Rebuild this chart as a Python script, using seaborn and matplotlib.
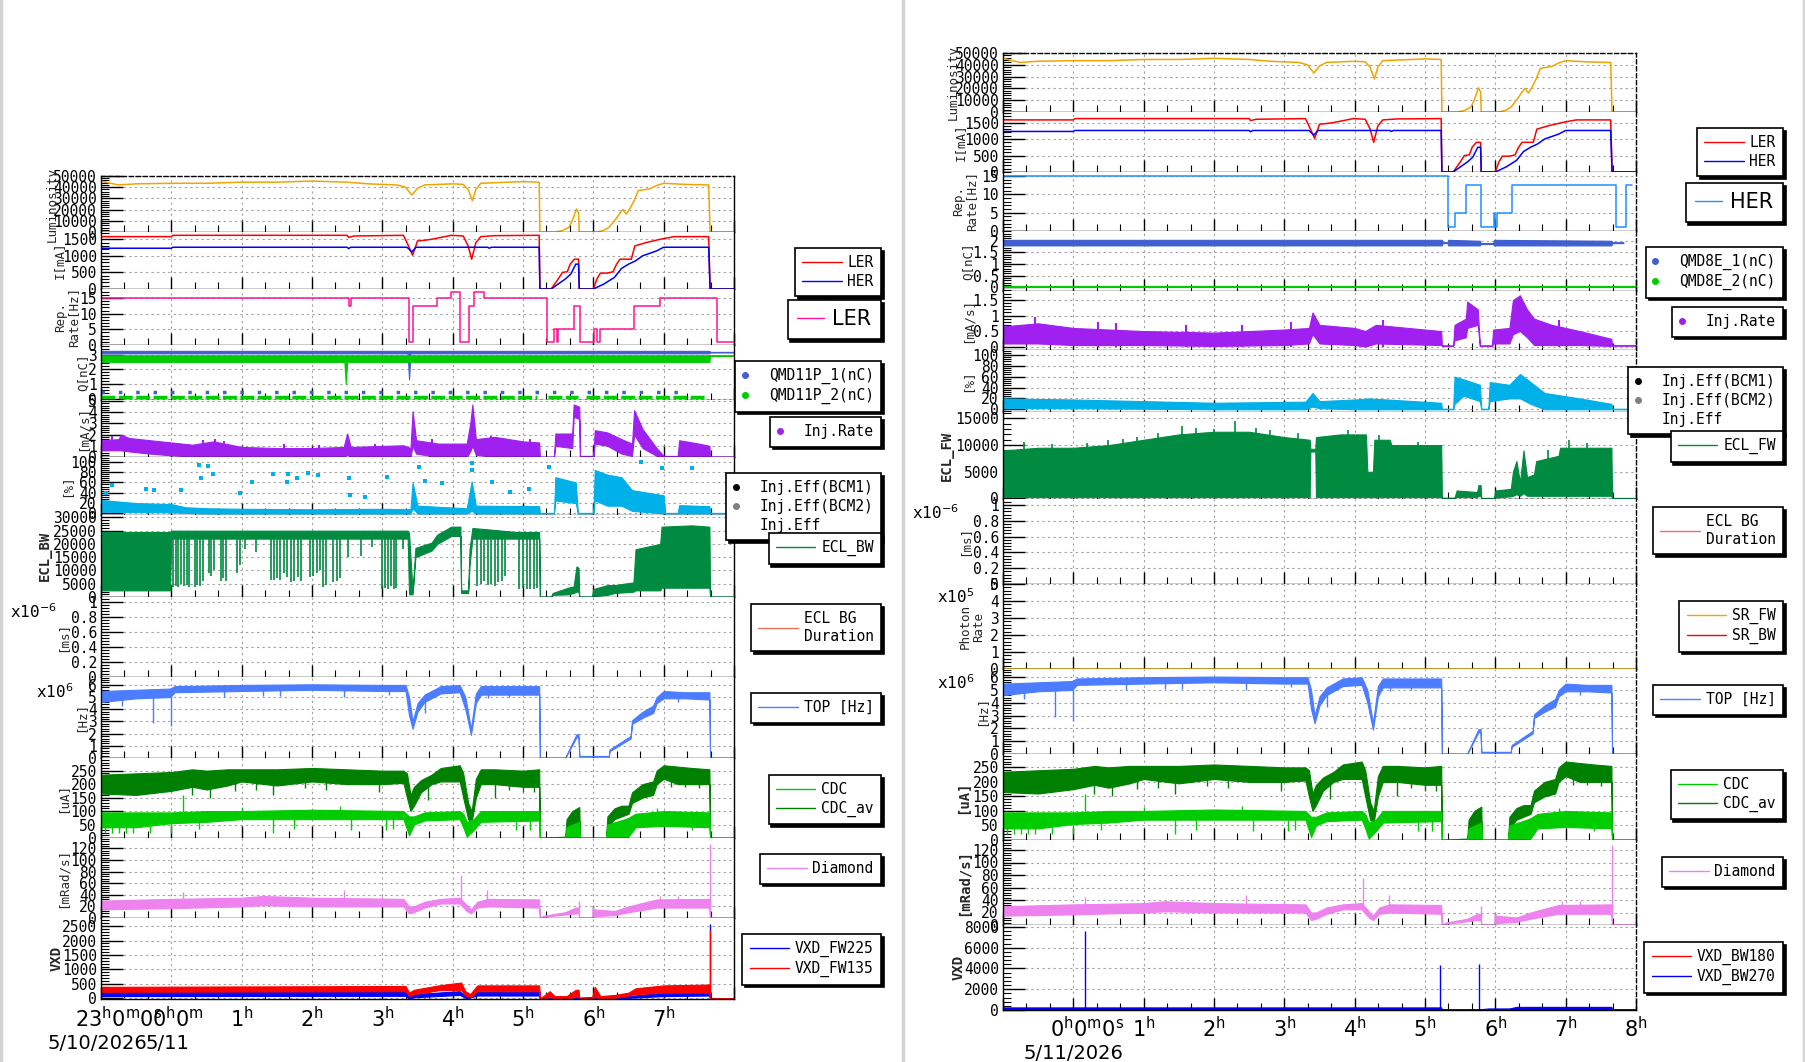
import pandas as pd
import seaborn as sns
import matplotlib
matplotlib.use('Agg')
import matplotlib.pyplot as plt
from matplotlib.lines import Line2D
from matplotlib.ticker import MultipleLocator, AutoMinorLocator, FuncFormatter, NullFormatter

sns.set_theme(style='white')
plt.rcParams['font.family'] = ['DejaVu Sans Mono', 'DejaVu Sans']
plt.rcParams['mathtext.fontset'] = 'dejavusans'
plt.rcParams['axes.edgecolor'] = 'black'
plt.rcParams['xtick.color'] = 'black'
plt.rcParams['ytick.color'] = 'black'
plt.rcParams['text.color'] = 'black'

W, H = 1806, 1062
T0, T1 = -1.0, 8.0  # hours from 5/11 00:00

# ---------------- data (time in hours) ----------------
# luminosity (t, value)
lum = [(-1.0, 45500), (-0.9, 44000), (-0.75, 42000), (-0.5, 43000), (0.0, 43500), (0.5, 43500),
       (1.0, 44500), (1.5, 44500), (2.0, 45500), (2.5, 44500), (2.8, 43000), (3.2, 42000),
       (3.33, 40000), (3.42, 33000), (3.5, 39000), (3.6, 42000), (4.0, 43000), (4.15, 42500),
       (4.22, 38000), (4.28, 28000), (4.33, 38000), (4.4, 43500), (5.0, 45000), (5.23, 44500),
       (5.24, 0), (5.45, 0), (5.55, 1000), (5.65, 4000), (5.7, 10000), (5.76, 20500), (5.79, 17000),
       (5.8, 0), (6.05, 0), (6.15, 1500), (6.22, 4000), (6.3, 10000), (6.38, 17000), (6.42, 20000),
       (6.47, 16000), (6.53, 22000), (6.58, 28000), (6.64, 37000), (6.8, 38500), (6.9, 41500),
       (7.0, 43500), (7.3, 42500), (7.64, 42000), (7.66, 0), (8.0, 0)]

# beam currents [mA]
ler = [(-1.0, 1580), (0.0, 1580), (0.02, 1620), (2.5, 1620), (2.52, 1560), (2.6, 1600), (3.3, 1620),
       (3.35, 1400), (3.43, 1020), (3.5, 1450), (3.6, 1470), (3.7, 1500), (3.98, 1620), (4.15, 1600),
       (4.22, 1300), (4.27, 900), (4.33, 1400), (4.4, 1580), (4.6, 1610), (5.23, 1620), (5.24, 0),
       (5.4, 0), (5.5, 300), (5.56, 500), (5.63, 520), (5.67, 750), (5.73, 900), (5.79, 900), (5.8, 0),
       (6.0, 0), (6.05, 300), (6.1, 480), (6.2, 480), (6.28, 520), (6.33, 750), (6.38, 900), (6.54, 900),
       (6.59, 1300), (6.75, 1400), (6.95, 1500), (7.15, 1580), (7.64, 1580), (7.66, 0), (8.0, 0)]
her = [(-1.0, 1230), (0.0, 1230), (0.02, 1260), (2.5, 1260), (2.52, 1220), (2.55, 1260), (3.35, 1260),
       (3.42, 1120), (3.48, 1260), (4.5, 1260), (4.52, 1230), (4.55, 1260), (5.23, 1260), (5.24, 0),
       (5.4, 0), (5.5, 150), (5.6, 300), (5.68, 450), (5.75, 750), (5.79, 750), (5.8, 0), (6.0, 0),
       (6.05, 50), (6.15, 150), (6.3, 350), (6.4, 620), (6.5, 750), (6.6, 850), (6.7, 1000),
       (6.9, 1150), (7.0, 1260), (7.64, 1260), (7.66, 0), (8.0, 0)]

# injection repetition rate [Hz] (steps)
rep_ler = [(-1.0, 15), (2.52, 12.5), (2.56, 15), (3.38, 1), (3.43, 12.5), (3.78, 15), (3.98, 17),
           (4.11, 1), (4.23, 12.5), (4.3, 17), (4.45, 15), (5.34, 1), (5.44, 5), (5.48, 1), (5.5, 5),
           (5.72, 12.5), (5.81, 1), (6.01, 5), (6.05, 1), (6.1, 5), (6.58, 12.5), (6.95, 15),
           (7.76, 1), (8.0, 1)]
rep_her = [(-1.0, 15), (5.32, 1), (5.42, 5), (5.59, 12.5), (5.79, 1), (5.98, 5), (6.0, 1), (6.02, 5),
           (6.23, 12.5), (7.72, 1), (7.86, 12.5), (7.95, 12.5)]

# bunch charge [nC] bands (t, low, high) and sparse rows (start, end, level)
q11p_1 = [(-1.0, 3.08, 3.25), (3.36, 3.08, 3.25), (3.38, 1.3, 3.25), (3.40, 3.08, 3.25),
          (7.65, 3.08, 3.25), (7.66, 3.14, 3.18), (8.0, 3.14, 3.18)]
q11p_2 = [(-1.0, 2.5, 2.95), (2.46, 2.5, 2.95), (2.48, 1.0, 2.95), (2.5, 2.5, 2.95),
          (7.65, 2.5, 2.95), (7.66, 2.9, 2.95), (8.0, 2.9, 2.95)]
q11p_1_row = [(-1.0, 7.3, 0.45)]
q11p_2_row = [(-1.0, 5.2, 0.08), (5.35, 5.78, 0.08), (5.9, 7.62, 0.08)]
q8e_1 = [(-1.0, 1.8, 2.04), (5.24, 1.8, 2.04), (5.25, 1.9, 1.94), (5.32, 1.9, 1.94), (5.33, 1.8, 2.04),
         (5.78, 1.8, 2.0), (5.79, 1.86, 1.9), (5.97, 1.86, 1.9), (5.98, 1.8, 2.04), (7.65, 1.8, 2.0),
         (7.66, 1.9, 1.94), (7.82, 1.9, 1.94)]
q8e_2 = [(-1.0, 0.0, 0.07), (8.0, 0.0, 0.07)]

# injection rate [mA/s] bands
inj_l = [(-1.0, 0.6, 1.5), (-0.75, 0.6, 1.6), (-0.72, 0.6, 2.0), (-0.6, 0.5, 1.7), (-0.3, 0.3, 1.5),
         (0.0, 0.15, 1.3), (0.3, 0.05, 1.1), (0.6, 0.0, 1.4), (1.0, 0.0, 0.9), (1.5, 0.0, 0.8),
         (2.0, 0.0, 0.8), (2.45, 0.0, 0.9), (2.5, 0.2, 2.1), (2.55, 0.0, 0.9), (3.3, 0.0, 1.05),
         (3.4, 0.0, 0.8), (3.43, 1.0, 4.1), (3.48, 0.3, 1.5), (3.8, 0.0, 1.2), (4.2, 0.0, 1.2),
         (4.25, 0.5, 3.0), (4.28, 1.0, 4.7), (4.33, 0.2, 1.6), (4.6, 0.0, 1.8), (5.0, 0.0, 1.4),
         (5.23, 0.0, 1.3), (5.24, 0.0, 0.03), (5.44, 0.0, 0.03), (5.46, 1.0, 2.1), (5.7, 0.8, 2.1),
         (5.72, 3.6, 4.7), (5.8, 3.4, 4.5), (5.81, 0.0, 0.1), (6.0, 0.0, 0.1), (6.02, 1.2, 2.4),
         (6.2, 1.0, 2.2), (6.4, 0.3, 1.6), (6.55, 0.1, 1.2), (6.58, 2.0, 4.2), (6.7, 0.8, 2.5),
         (6.9, 0.1, 0.8), (7.0, 0.0, 0.1), (7.2, 0.0, 0.1), (7.22, 0.0, 1.5), (7.5, 0.0, 1.2),
         (7.65, 0.0, 1.0), (7.66, 0.0, 0.05), (8.0, 0.0, 0.05)]
inj_l_spk = [(-0.85, 0.6, 1.9), (0.45, 0.0, 1.5), (0.62, 0.0, 1.6), (0.75, 0.0, 1.4), (1.6, 0.0, 1.2),
             (2.1, 0.0, 1.1), (2.9, 0.0, 1.2), (3.7, 0.0, 1.6), (4.55, 0.0, 1.9), (5.1, 0.0, 1.6)]
inj_r = [(-1.0, 0.1, 0.65), (-0.5, 0.1, 0.75), (0.0, 0.05, 0.6), (0.5, 0.05, 0.55), (1.0, 0.05, 0.5),
         (2.0, 0.02, 0.45), (3.0, 0.05, 0.55), (3.35, 0.1, 0.6), (3.4, 0.4, 1.1), (3.5, 0.1, 0.7),
         (4.0, 0.05, 0.6), (4.15, 0.0, 0.5), (4.3, 0.1, 0.7), (5.23, 0.05, 0.5), (5.24, 0.02, 0.04),
         (5.4, 0.02, 0.04), (5.42, 0.2, 0.7), (5.58, 0.3, 0.9), (5.6, 0.6, 1.45), (5.75, 0.7, 1.2),
         (5.78, 0.02, 0.04), (5.95, 0.02, 0.04), (5.97, 0.1, 0.55), (6.2, 0.1, 0.6), (6.25, 0.4, 1.5),
         (6.35, 0.5, 1.65), (6.45, 0.3, 1.2), (6.55, 0.05, 0.9), (6.8, 0.05, 0.7), (7.2, 0.05, 0.5),
         (7.65, 0.02, 0.25), (7.66, 0.03, 0.05), (8.0, 0.03, 0.05)]
inj_r_spk = [(-0.55, 0.1, 0.95), (0.35, 0.0, 0.8), (0.6, 0.0, 0.75), (1.6, 0.0, 0.7), (2.4, 0.0, 0.7),
             (3.1, 0.0, 0.8), (4.4, 0.0, 0.85), (6.9, 0.0, 0.85)]

# injection efficiency [%] bands and outliers
eff_l = [(-1.0, 3, 26), (-0.5, 3, 20), (0.0, 2, 18), (0.2, 1, 12), (0.5, 0, 10), (1.0, 0, 9), (2.0, 0, 8),
         (3.0, 0, 9), (3.4, 0, 8), (3.43, 10, 60), (3.5, 0, 15), (4.2, 0, 10), (4.27, 5, 62),
         (4.33, 0, 15), (5.23, 0, 14), (5.24, 0, 1), (5.44, 0, 1), (5.46, 25, 70), (5.75, 20, 60),
         (5.78, 0, 1), (6.0, 0, 1), (6.02, 25, 84), (6.2, 15, 75), (6.4, 15, 70), (6.55, 5, 45),
         (7.0, 0, 35), (7.02, 0, 1), (7.2, 0, 1), (7.22, 0, 16), (7.65, 0, 14), (7.66, 0, 1), (8.0, 0, 1)]
eff_l_pts = [(-0.93, 39), (-0.84, 55), (-0.36, 48), (-0.24, 45), (0.14, 45), (0.4, 94), (0.42, 68),
             (0.52, 92), (0.59, 77), (0.97, 40), (1.14, 61), (1.45, 76), (1.64, 61), (1.66, 77),
             (1.78, 68), (1.95, 79), (2.09, 74), (2.52, 68), (2.54, 35), (2.76, 32), (3.07, 71),
             (3.52, 90), (3.61, 63), (3.85, 59), (4.28, 84), (4.28, 97), (4.56, 61), (4.82, 42),
             (5.08, 48), (5.37, 90), (6.68, 100), (6.97, 87), (7.4, 87)]
eff_r = [(-1.0, 2, 20), (0.0, 2, 18), (1.0, 1, 15), (2.0, 0, 12), (3.3, 0, 14), (3.4, 5, 30), (3.5, 2, 15),
         (4.0, 0, 18), (4.2, 0, 20), (5.23, 0, 12), (5.24, 0, 1), (5.4, 0, 1), (5.42, 10, 60),
         (5.55, 25, 55), (5.78, 15, 45), (5.8, 0, 1), (5.9, 0, 1), (5.92, 15, 50), (6.2, 20, 45),
         (6.35, 20, 65), (6.5, 10, 50), (6.7, 0, 30), (7.2, 0, 20), (7.65, 0, 10), (7.66, 0, 1), (8.0, 0, 1)]

# ECL backward / forward
ecl_bw = [(-1.0, 2500, 24500), (-0.02, 2500, 24500), (0.0, 22000, 25000), (3.36, 22000, 25000),
          (3.38, 1000, 24000), (3.43, 1000, 2000), (3.47, 15000, 18500), (3.7, 17500, 20500),
          (3.78, 20000, 23500), (3.98, 23000, 26500), (4.11, 23000, 26500), (4.12, 1500, 2500),
          (4.22, 1500, 2500), (4.24, 12000, 18000), (4.28, 22000, 26000), (4.5, 22000, 25500),
          (4.9, 22000, 24500), (5.23, 22000, 24500), (5.24, 0, 200), (5.4, 0, 200), (5.42, 800, 1500),
          (5.64, 1000, 3500), (5.72, 1500, 4000), (5.76, 2000, 11500), (5.79, 2000, 11000), (5.8, 0, 200),
          (5.98, 0, 200), (6.0, 300, 3000), (6.2, 800, 4500), (6.3, 1500, 4500), (6.57, 2000, 5500),
          (6.6, 2500, 18000), (6.95, 2500, 20000), (6.97, 3500, 26500), (7.4, 3500, 27000),
          (7.65, 3500, 26500), (7.66, 0, 200), (8.0, 0, 200)]
ecl_bw_spk = [(0.02, 3800), (0.06, 4200), (0.1, 3800), (0.14, 5000), (0.18, 4000), (0.22, 4500),
              (0.25, 3800), (0.33, 3800), (0.37, 4500), (0.41, 4000), (0.45, 6000), (0.53, 9000),
              (0.57, 8000), (0.6, 10000), (0.7, 6000), (0.74, 7000), (0.78, 6000), (0.93, 9000),
              (0.97, 12000), (1.05, 18000), (1.2, 17000), (1.42, 6300), (1.46, 6500), (1.5, 7000),
              (1.55, 6300), (1.6, 9000), (1.64, 7500), (1.7, 5500), (1.75, 6000), (1.8, 7500),
              (1.85, 6000), (1.97, 7500), (2.02, 8000), (2.07, 9000), (2.11, 10000), (2.15, 3800),
              (2.2, 4500), (2.3, 5500), (2.35, 6000), (2.4, 7000), (2.51, 15000), (2.7, 15500),
              (2.85, 19000), (3.0, 3000), (3.04, 3500), (3.08, 3000), (3.12, 4000), (3.16, 3000),
              (3.2, 3500), (3.3, 18000), (4.35, 4000), (4.4, 5000), (4.45, 6000), (4.5, 4500),
              (4.55, 5000), (4.6, 4000), (4.65, 5500), (4.7, 6000), (4.75, 8000), (4.95, 3000),
              (5.0, 3500), (5.05, 3000), (5.1, 3200), (5.15, 3000), (5.2, 3500)]
ecl_fw = [(-1.0, 300, 9000), (-0.5, 300, 9500), (0.0, 300, 9500), (0.5, 300, 10000), (1.0, 300, 11000),
          (1.5, 300, 12000), (2.0, 300, 12500), (2.5, 300, 12500), (3.0, 300, 11500), (3.36, 300, 11000),
          (3.37, 8800, 9300), (3.44, 8800, 9300), (3.45, 300, 11500), (3.8, 300, 12000),
          (4.16, 300, 12000), (4.18, 300, 5000), (4.26, 300, 5000), (4.28, 300, 11000),
          (4.5, 300, 11000), (4.52, 300, 10000), (5.23, 300, 10000), (5.24, 0, 150), (5.42, 0, 150),
          (5.45, 300, 1500), (5.74, 300, 1200), (5.76, 500, 2500), (5.79, 500, 2500), (5.8, 0, 100),
          (5.98, 0, 100), (6.0, 200, 1500), (6.22, 400, 1800), (6.25, 500, 5000), (6.3, 800, 7000),
          (6.35, 500, 3000), (6.4, 1000, 9000), (6.45, 500, 4000), (6.55, 500, 4500),
          (6.58, 500, 7000), (6.9, 500, 8000), (6.92, 500, 9500), (7.65, 500, 9500), (7.66, 0, 100),
          (8.0, 0, 100)]
ecl_fw_spk = [(-0.7, 10500), (-0.3, 10200), (0.2, 10300), (0.5, 11000), (0.7, 11200), (0.9, 11500),
              (1.2, 12300), (1.55, 13500), (1.75, 13200), (2.0, 13000), (2.3, 14500), (2.6, 13200),
              (2.8, 12800), (3.2, 12200), (3.9, 12800), (4.35, 11800), (4.9, 10600), (6.75, 9000),
              (7.05, 11000), (7.3, 10300)]

# synchrotron radiation photon rate (x1e5)
sr_fw = [(-1.0, 0.0), (8.0, 0.0)]

# TOP rate (x1e6 Hz)
top = [(-1.0, 4.6, 5.5), (-0.5, 4.9, 5.6), (-0.02, 5.0, 5.7), (0.05, 5.4, 5.9), (1.0, 5.5, 6.0),
       (2.0, 5.6, 6.05), (3.0, 5.5, 6.0), (3.33, 5.5, 6.0), (3.38, 3.5, 5.0), (3.43, 2.4, 3.0),
       (3.5, 3.8, 4.5), (3.6, 4.6, 5.2), (3.83, 5.3, 5.9), (4.1, 5.4, 6.0), (4.18, 4.0, 5.0),
       (4.26, 1.9, 2.4), (4.33, 4.5, 5.3), (4.4, 5.2, 5.9), (5.23, 5.2, 5.9), (5.24, 0.0, 0.03),
       (5.6, 0.0, 0.03), (5.76, 1.7, 1.95), (5.79, 1.7, 1.95), (5.8, 0.12, 0.17), (6.22, 0.12, 0.17),
       (6.23, 0.55, 0.7), (6.5, 1.5, 1.7), (6.53, 1.6, 1.8), (6.55, 2.8, 3.1), (6.7, 3.3, 3.8),
       (6.85, 3.7, 4.3), (6.9, 4.5, 5.0), (7.0, 4.9, 5.5), (7.3, 4.9, 5.4), (7.65, 4.8, 5.4),
       (7.66, 0.0, 0.03), (8.0, 0.0, 0.03)]
top_spk = [(-0.26, 2.9, 5.2), (0.0, 2.6, 5.4), (3.6, 3.7, 4.8), (-0.7, 4.3, 5.2), (0.75, 5.0, 5.8),
           (1.3, 5.1, 5.8), (1.55, 5.1, 5.9), (2.45, 5.0, 5.8), (3.1, 5.2, 5.9), (4.5, 4.9, 5.7),
           (4.8, 5.0, 5.7), (7.2, 4.6, 5.2)]

# CDC currents [uA]
cdc_av = [(-1.0, 165, 235), (-0.5, 160, 240), (0.0, 175, 245), (0.3, 190, 255), (0.5, 180, 250),
          (0.8, 195, 255), (1.0, 210, 255), (1.5, 195, 255), (2.0, 210, 260), (2.5, 200, 255),
          (3.0, 200, 250), (3.3, 205, 250), (3.35, 150, 240), (3.4, 100, 160), (3.45, 120, 190),
          (3.55, 170, 215), (3.7, 200, 235), (3.83, 210, 260), (4.1, 210, 270), (4.15, 150, 240),
          (4.22, 70, 130), (4.27, 60, 100), (4.33, 150, 220), (4.4, 200, 255), (4.6, 200, 255),
          (5.0, 190, 250), (5.23, 190, 255), (5.24, 0, 1), (5.6, 0, 5), (5.62, 30, 70), (5.7, 50, 100),
          (5.8, 60, 115), (5.81, 0, 1), (6.18, 0, 1), (6.2, 40, 80), (6.3, 70, 110), (6.4, 80, 120),
          (6.5, 90, 120), (6.55, 130, 170), (6.7, 150, 200), (6.85, 160, 210), (6.9, 200, 250),
          (7.0, 220, 270), (7.2, 200, 265), (7.4, 200, 260), (7.65, 200, 255), (7.66, 0, 1), (8.0, 0, 1)]
cdc = [(-1.0, 40, 95), (-0.5, 40, 95), (0.0, 55, 95), (0.5, 60, 100), (1.0, 70, 100), (2.0, 70, 105),
       (3.3, 70, 100), (3.38, 10, 80), (3.45, 50, 80), (3.6, 65, 95), (4.1, 70, 100), (4.15, 40, 90),
       (4.2, 5, 60), (4.3, 30, 70), (4.4, 60, 100), (5.23, 65, 100), (5.24, 0, 1), (5.6, 0, 1),
       (5.62, 0, 40), (5.8, 0, 60), (5.81, 0, 1), (6.18, 0, 1), (6.2, 0, 50), (6.45, 0, 70),
       (6.5, 5, 75), (6.6, 40, 90), (7.0, 45, 100), (7.65, 40, 95), (7.66, 0, 1), (8.0, 0, 1)]
cdc_spk = [(-0.95, 20, 60), (-0.85, 20, 60), (-0.75, 20, 60), (-0.65, 20, 60), (-0.55, 20, 60),
           (-0.3, 20, 60), (0.0, 20, 60), (0.17, 80, 160), (0.4, 35, 70), (1.45, 20, 70), (1.75, 35, 70),
           (2.55, 30, 70), (3.05, 30, 70), (3.15, 35, 70), (4.9, 30, 70), (5.1, 30, 70), (7.4, 30, 70),
           (1.0, 80, 115), (2.4, 80, 118), (6.9, 70, 110)]
cdc_av_spk = [(0.55, 150, 200), (1.45, 160, 200), (2.95, 170, 210), (3.65, 140, 210), (4.6, 150, 200),
              (0.3, 160, 200), (0.9, 175, 220), (1.2, 180, 220), (1.9, 185, 220), (2.2, 180, 215),
              (4.8, 180, 220), (5.0, 170, 210), (5.15, 170, 210), (7.1, 190, 230), (7.3, 190, 230),
              (7.5, 185, 225)]

# diamond dose rate [mRad/s]
dia = [(-1.0, 15, 30), (0.0, 17, 33), (1.0, 20, 35), (1.3, 22, 38), (2.0, 20, 35), (3.3, 20, 33),
       (3.38, 8, 20), (3.45, 10, 20), (3.6, 18, 28), (3.83, 25, 33), (4.1, 25, 35), (4.2, 12, 22),
       (4.26, 8, 15), (4.35, 18, 28), (4.5, 20, 33), (5.23, 18, 32), (5.24, 0, 1), (5.3, 2, 4),
       (5.6, 6, 10), (5.75, 8, 18), (5.79, 8, 18), (5.8, 0, 1), (5.98, 0, 1), (6.0, 3, 15),
       (6.3, 5, 12), (6.5, 10, 20), (6.9, 18, 32), (7.65, 18, 33), (7.66, 0, 1), (8.0, 0, 1)]
dia_spk = [(0.17, 20, 45), (2.46, 25, 48), (4.12, 30, 75), (4.49, 25, 48), (5.8, 10, 30),
           (6.0, 10, 20), (7.66, 0, 128), (1.3, 30, 40), (3.0, 20, 38), (6.95, 25, 38), (7.2, 25, 38)]

# VXD
vxd_fw135 = [(-1.0, 230, 400), (3.33, 250, 430), (3.38, 80, 200), (3.45, 150, 300), (3.8, 280, 450),
             (4.12, 300, 550), (4.18, 100, 250), (4.25, 50, 150), (4.35, 250, 450), (5.23, 250, 450),
             (5.24, 0, 10), (5.3, 0, 100), (5.38, 50, 250), (5.45, 0, 80), (5.62, 0, 80), (5.75, 50, 300),
             (5.79, 50, 300), (5.8, 0, 10), (5.98, 0, 10), (6.02, 50, 400), (6.1, 0, 80), (6.3, 20, 120),
             (6.5, 100, 200), (6.6, 150, 350), (7.0, 200, 450), (7.65, 200, 480), (7.66, 0, 10), (8.0, 0, 10)]
vxd_fw225 = [(-1.0, 80, 230), (3.33, 90, 250), (3.38, 0, 80), (3.45, 40, 150), (4.1, 120, 250),
             (4.2, 0, 50), (4.35, 100, 220), (5.23, 100, 240), (5.24, 0, 10), (5.8, 0, 30), (6.5, 20, 80),
             (7.0, 80, 200), (7.65, 100, 220), (7.66, 0, 10), (8.0, 0, 10)]
vxd_fw225_spk = [(7.655, 0, 2560)]
vxd_fw135_spk = [(7.66, 0, 2350)]
vxd_bw270 = [(-1.0, 0, 250), (5.23, 0, 250), (5.24, 0, 80), (5.8, 0, 80), (5.9, 0, 150), (6.2, 0, 150),
             (6.3, 0, 300), (7.65, 0, 300), (7.66, 0, 80), (8.0, 0, 80)]
vxd_bw180 = [(-1.0, 0, 30), (8.0, 0, 30)]
vxd_bw270_spk = [(0.17, 0, 7600), (5.22, 0, 4300), (5.77, 0, 4400)]

# ---------------- colours ----------------
C_LUM = '#f0a500'
C_LER = '#ff0000'
C_HER = '#0000ff'
C_REPL = '#ff1493'
C_REPH = '#1e90ff'
C_Q1 = '#4060d0'
C_Q2 = '#00cc00'
C_INJ = '#a020f0'
C_EFF = '#00b0e8'
C_ECL = '#008b40'
C_BG = '#f07060'
C_TOP = '#4c7cff'
C_CDC = '#00cc00'
C_CDCAV = '#008000'
C_DIA = '#ee82ee'

# ---------------- helpers ----------------
fig = plt.figure(figsize=(W / 100, H / 100), dpi=100)


def line(ax, pts, color, lw=1.1, steps=False):
    df = pd.DataFrame(pts, columns=['t', 'v'])
    sns.lineplot(data=df, x='t', y='v', ax=ax, color=color, lw=lw, estimator=None, sort=False,
                 drawstyle='steps-post' if steps else 'default')


def band(ax, pts, color):
    df = pd.DataFrame(pts, columns=['t', 'lo', 'hi'])
    ax.fill_between(df.t, df.lo, df.hi, color=color, lw=0.8, edgecolor=color)


def spikes(ax, pts, color, lw=1.0):
    df = pd.DataFrame(pts, columns=['t', 'lo', 'hi'])
    ax.vlines(df.t, df.lo, df.hi, color=color, lw=lw)


def make_col(x0, x1, edges):
    out = []
    for yt, yb in zip(edges[:-1], edges[1:]):
        out.append(fig.add_axes([x0 / W, 1 - yb / H, (x1 - x0) / W, (yb - yt) / H]))
    return out


def style(ax, spec, x0, x1, right_dashed):
    ylim, major, label, lab_px, bold = spec
    ax.set_xlim(T0, T1)
    ax.set_ylim(*ylim)
    ax.xaxis.set_major_locator(MultipleLocator(1))
    ax.xaxis.set_minor_locator(MultipleLocator(1 / 3))
    ax.xaxis.set_major_formatter(NullFormatter())
    ax.yaxis.set_major_locator(MultipleLocator(major))
    ax.yaxis.set_minor_locator(AutoMinorLocator(5))
    ax.yaxis.set_major_formatter(FuncFormatter(lambda v, p: '%g' % (v + 0.0)))
    ax.tick_params(axis='x', which='major', direction='in', length=9, width=1, bottom=True, top=False)
    ax.tick_params(axis='x', which='minor', direction='in', length=5, width=0.8, bottom=True, top=False)
    ax.tick_params(axis='y', which='major', direction='in', length=16, width=1, left=True,
                   labelsize=10.5, pad=3)
    ax.tick_params(axis='y', which='minor', direction='in', length=6, width=0.8, left=True)
    ax.grid(True, which='major', color='#a0a0a0', ls=(0, (2, 3)), lw=0.8)
    ax.set_axisbelow(True)
    ax.set_xlabel('')
    ax.set_ylabel(label, fontsize=10 if bold else 9, fontweight='bold' if bold else 'normal',
                  linespacing=1.0, va='center')
    ax.yaxis.set_label_coords((lab_px - x0) / (x1 - x0), 0.5)
    for s in ax.spines.values():
        s.set_color('black')
        s.set_linewidth(1.0)
    ax.spines['top'].set_visible(False)
    if right_dashed:
        ax.spines['right'].set_linestyle((0, (3, 2)))


def legend(handles, labels, xr, yt, dots=False, fs=10.5, family='DejaVu Sans Mono', hl=None, pad=0.5):
    leg = fig.legend(handles, labels, loc='upper right', bbox_to_anchor=(xr / W, 1 - yt / H),
                     prop={'family': family, 'size': fs}, frameon=True, fancybox=False,
                     edgecolor='black', framealpha=1, shadow={'color': 'black', 'alpha': 1},
                     borderaxespad=0, borderpad=pad, labelspacing=0.25,
                     handlelength=(0.3 if dots else 2.7) if hl is None else hl,
                     handletextpad=1.5 if dots else 0.4)
    leg.get_frame().set_linewidth(1.2)
    return leg


def h_line(c, lw=1.0):
    return Line2D([], [], color=c, lw=lw)


def h_dot(c):
    return Line2D([], [], color=c, marker='o', ls='', ms=4)


# ---------------- left page ----------------
LX0, LX1 = 101, 734
L_EDGES = [176, 232, 289, 345, 400, 457, 515, 597, 677, 758, 838, 918, 999]
L_SPEC = [((0, 50000), 10000, 'Luminosity', 52, False),
          ((0, 1720), 500, 'I[mA]', 59, False),
          ((0, 17.9), 5, 'Rep.\nRate[Hz]', 67, False),
          ((-0.1, 3.65), 1, 'Q[nC]', 83, False),
          ((0, 5.1), 1, '[mA/s]', 83, False),
          ((-3, 109), 20, '[%]', 67, False),
          ((0, 30900), 5000, 'ECL_BW', 45, True),
          ((0, 1.06), 0.2, '[ms]', 63, False),
          ((0, 6.65), 1, '[Hz]', 81, False),
          ((0, 297), 50, '[uA]', 63, False),
          ((0, 138), 20, '[mRad/s]', 63, False),
          ((-20, 2780), 500, 'VXD', 57, True)]
L = make_col(LX0, LX1, L_EDGES)

line(L[0], lum, C_LUM)
line(L[1], ler, C_LER)
line(L[1], her, C_HER)
line(L[2], rep_ler, C_REPL, steps=True)
band(L[3], q11p_1, C_Q1)
band(L[3], q11p_2, C_Q2)
for a, b, y in q11p_1_row:
    L[3].hlines(y, a, b, color=C_Q1, lw=2.5, linestyles=(0, (1, 4)))
for a, b, y in q11p_2_row:
    L[3].hlines(y, a, b, color=C_Q2, lw=2.5, linestyles=(0, (4, 1)))
band(L[4], inj_l, C_INJ)
spikes(L[4], inj_l_spk, C_INJ, lw=1.5)
band(L[5], eff_l, C_EFF)
pts = pd.DataFrame(eff_l_pts, columns=['t', 'v'])
sns.scatterplot(data=pts, x='t', y='v', ax=L[5], color=C_EFF, s=7, marker='s', linewidth=0, legend=False)
band(L[6], ecl_bw, C_ECL)
spk = pd.DataFrame(ecl_bw_spk, columns=['t', 'lo'])
L[6].vlines(spk.t, spk.lo, 24500, color=C_ECL, lw=1.2)
band(L[8], top, C_TOP)
spikes(L[8], top_spk, C_TOP)
band(L[9], cdc_av, C_CDCAV)
spikes(L[9], cdc_av_spk, C_CDCAV)
band(L[9], cdc, C_CDC)
spikes(L[9], cdc_spk, C_CDC)
band(L[10], dia, C_DIA)
spikes(L[10], dia_spk, C_DIA)
band(L[11], vxd_fw225, C_HER)
band(L[11], vxd_fw135, C_LER)
spikes(L[11], vxd_fw225_spk, C_HER)
spikes(L[11], vxd_fw135_spk, C_LER)

for ax, spec in zip(L, L_SPEC):
    style(ax, spec, LX0, LX1, False)
L[0].spines['top'].set_visible(True)
L[0].spines['top'].set_linestyle((0, (3, 2)))

# ---------------- right page ----------------
RX0, RX1 = 1003, 1636
R_EDGES = [53, 112, 172, 231, 291, 350, 412, 499, 584, 669, 754, 840, 925, 1010]
R_SPEC = [((0, 50000), 10000, 'Luminosity', 953, False),
          ((0, 1820), 500, 'I[mA]', 960, False),
          ((0, 16.1), 5, 'Rep.\nRate[Hz]', 965, False),
          ((-0.16, 2.42), 0.5, 'Q[nC]', 968, False),
          ((-0.11, 1.79), 0.5, '[mA/s]', 968, False),
          ((-5, 109), 20, '[%]', 968, False),
          ((-100, 16200), 5000, 'ECL_FW', 947, True),
          ((0, 1.077), 0.2, '[ms]', 965, False),
          ((0, 5.0), 1, 'Photon\nRate', 972, False),
          ((0, 6.64), 1, '[Hz]', 982, False),
          ((0, 296), 50, '[uA]', 963, True),
          ((0, 136), 20, '[mRad/s]', 964, True),
          ((0, 8190), 2000, 'VXD', 959, True)]
R = make_col(RX0, RX1, R_EDGES)

line(R[0], lum, C_LUM)
line(R[1], ler, C_LER)
line(R[1], her, C_HER)
line(R[2], rep_her, C_REPH, steps=True)
band(R[3], q8e_1, C_Q1)
band(R[3], q8e_2, C_Q2)
band(R[4], inj_r, C_INJ)
spikes(R[4], inj_r_spk, C_INJ, lw=1.5)
band(R[5], eff_r, C_EFF)
band(R[6], ecl_fw, C_ECL)
spk = pd.DataFrame(ecl_fw_spk, columns=['t', 'hi'])
R[6].vlines(spk.t, 300, spk.hi, color=C_ECL, lw=1.2)
line(R[8], sr_fw, C_LUM)
band(R[9], top, C_TOP)
spikes(R[9], top_spk, C_TOP)
band(R[10], cdc_av, C_CDCAV)
spikes(R[10], cdc_av_spk, C_CDCAV)
band(R[10], cdc, C_CDC)
spikes(R[10], cdc_spk, C_CDC)
band(R[11], dia, C_DIA)
spikes(R[11], dia_spk, C_DIA)
band(R[12], vxd_bw180, C_LER)
band(R[12], vxd_bw270, C_HER)
spikes(R[12], vxd_bw270_spk, C_HER)

for ax, spec in zip(R, R_SPEC):
    style(ax, spec, RX0, RX1, True)
R[0].spines['top'].set_visible(True)
R[0].spines['top'].set_linestyle((0, (3, 2)))

# ---------------- time labels ----------------
def tlab(ax, t, txt, y, size=15):
    ax.text(t, y, txt, transform=ax.get_xaxis_transform(), ha='center', va='center',
            fontsize=size, family='DejaVu Sans', clip_on=False)


tlab(L[-1], -0.75, r'$23^{\mathrm{h}}0^{\mathrm{m}}0^{\mathrm{s}}$', -0.24)
tlab(L[-1], 0.09, r'$0^{\mathrm{h}}0^{\mathrm{m}}$', -0.24)
for hr in range(1, 8):
    tlab(L[-1], hr, r'$%d^{\mathrm{h}}$' % hr, -0.24)
tlab(L[-1], -1.05, '5/10/2026', -0.55, 14)
tlab(L[-1], -0.06, '5/11', -0.55, 14)

tlab(R[-1], 0.2, r'$0^{\mathrm{h}}0^{\mathrm{m}}0^{\mathrm{s}}$', -0.22)
for hr in range(1, 9):
    tlab(R[-1], hr, r'$%d^{\mathrm{h}}$' % hr, -0.22)
tlab(R[-1], 0.0, '5/11/2026', -0.51, 14)

# exponent labels
for x, y, s in [(33, 612, 'x10$^{-6}$'), (55, 692, 'x10$^{6}$'), (935, 513, 'x10$^{-6}$'),
                (956, 597, 'x10$^{5}$'), (956, 683, 'x10$^{6}$')]:
    fig.text(x / W, 1 - y / H, s, ha='center', va='center', fontsize=11.5)

# ---------------- legends ----------------
XL, XR = 881, 1783
legend([h_line(C_LER), h_line(C_HER)], ['LER', 'HER'], XL, 248)
legend([h_line(C_REPL)], ['LER'], XL, 300, fs=15, family='DejaVu Sans', hl=1.3, pad=0.45)
legend([h_dot(C_Q1), h_dot(C_Q2)], ['QMD11P_1(nC)', 'QMD11P_2(nC)'], XL, 361, dots=True)
legend([h_dot(C_INJ)], ['Inj.Rate'], XL, 417, dots=True)
legend([h_dot('black'), h_dot('gray'), h_dot('none')], ['Inj.Eff(BCM1)', 'Inj.Eff(BCM2)', 'Inj.Eff'],
       XL, 473, dots=True)
legend([h_line(C_ECL)], ['ECL_BW'], XL, 533)
legend([h_line(C_BG)], ['ECL BG\nDuration'], XL, 604)
legend([h_line(C_TOP)], ['TOP [Hz]'], XL, 693)
legend([h_line(C_CDC), h_line(C_CDCAV)], ['CDC', 'CDC_av'], XL, 775)
legend([h_line(C_DIA)], ['Diamond'], XL, 854)
legend([h_line(C_HER), h_line(C_LER)], ['VXD_FW225', 'VXD_FW135'], XL, 934)

legend([h_line(C_LER), h_line(C_HER)], ['LER', 'HER'], XR, 128)
legend([h_line(C_REPH)], ['HER'], XR, 183, fs=15, family='DejaVu Sans', hl=1.3, pad=0.45)
legend([h_dot(C_Q1), h_dot(C_Q2)], ['QMD8E_1(nC)', 'QMD8E_2(nC)'], XR, 247, dots=True)
legend([h_dot(C_INJ)], ['Inj.Rate'], XR, 307, dots=True)
legend([h_dot('black'), h_dot('gray'), h_dot('none')], ['Inj.Eff(BCM1)', 'Inj.Eff(BCM2)', 'Inj.Eff'],
       XR, 367, dots=True)
legend([h_line(C_ECL)], ['ECL_FW'], XR, 431)
legend([h_line(C_BG)], ['ECL BG\nDuration'], XR, 507)
legend([h_line(C_LUM), h_line(C_LER)], ['SR_FW', 'SR_BW'], XR, 601)
legend([h_line(C_TOP)], ['TOP [Hz]'], XR, 685)
legend([h_line(C_CDC), h_line(C_CDCAV)], ['CDC', 'CDC_av'], XR, 770)
legend([h_line(C_DIA)], ['Diamond'], XR, 857)
legend([h_line(C_LER), h_line(C_HER)], ['VXD_BW180', 'VXD_BW270'], XR, 942)

# page borders
for x in (1.5, 903, 1804):
    fig.add_artist(Line2D([x / W, x / W], [0, 1], color='#d4d4d4', lw=2.5))

fig.savefig('out.png', dpi=100)
